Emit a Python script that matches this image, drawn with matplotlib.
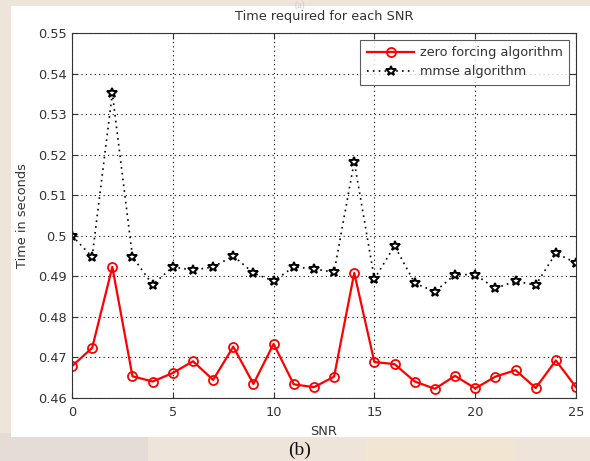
import matplotlib
matplotlib.use("Agg")
import matplotlib.pyplot as plt
from matplotlib.patches import Rectangle

snr = list(range(26))
zero_forcing = [0.4678, 0.4723, 0.4923, 0.4653, 0.4640, 0.4661, 0.4690, 0.4644,
                0.4726, 0.4634, 0.4733, 0.4633, 0.4626, 0.4652, 0.4908, 0.4688,
                0.4683, 0.4640, 0.4622, 0.4654, 0.4623, 0.4652, 0.4668, 0.4624,
                0.4692, 0.4626]
mmse = [0.5000, 0.4948, 0.5352, 0.4948, 0.4879, 0.4923, 0.4915, 0.4923,
        0.4950, 0.4908, 0.4888, 0.4923, 0.4918, 0.4910, 0.5183, 0.4893,
        0.4975, 0.4883, 0.4862, 0.4904, 0.4904, 0.4870, 0.4888, 0.4878,
        0.4957, 0.4933]
xticks = [0, 5, 10, 15, 20, 25]
yticks = [0.46, 0.47, 0.48, 0.49, 0.50, 0.51, 0.52, 0.53, 0.54, 0.55]
ytick_labels = ["0.46", "0.47", "0.48", "0.49", "0.5", "0.51", "0.52", "0.53", "0.54", "0.55"]

plt.rcParams["font.family"] = ["DejaVu Sans"]
FS = 9.3
TXT = "#333333"

fig = plt.figure(figsize=(5.9, 4.61), dpi=100)
fig.patch.set_facecolor("#efe4da")

# faded page background behind the figure panel
fig.patches.append(Rectangle((0, 0), 0.25, 0.06, transform=fig.transFigure,
                             facecolor="#e6dcd6", edgecolor="none", zorder=-2))
fig.patches.append(Rectangle((0.62, 0), 0.25, 0.06, transform=fig.transFigure,
                             facecolor="#f2e6d2", edgecolor="none", zorder=-2))
# white figure panel
fig.patches.append(Rectangle((11 / 590, 1 - 437 / 461), 1 - 11 / 590, (437 - 6) / 461,
                             transform=fig.transFigure, facecolor="white",
                             edgecolor="none", zorder=-1))

ax = fig.add_axes([72 / 590, 1 - 397.7 / 461, (576 - 72) / 590, (397.7 - 33.3) / 461])
ax.set_zorder(1)

ax.plot(snr, zero_forcing, color="red", linewidth=1.6, marker="o", markersize=6.5,
        markerfacecolor="none", markeredgecolor="red", markeredgewidth=1.3,
        label="zero forcing algorithm")
ax.plot(snr, mmse, color="black", linewidth=1.2, linestyle=(0, (1, 2.5)), marker="*",
        markersize=7.5, markerfacecolor="white", markeredgecolor="black",
        markeredgewidth=1.4, label="mmse algorithm")

ax.set_xlim(0, 25)
ax.set_ylim(0.46, 0.55)
ax.set_xticks(xticks)
ax.set_yticks(yticks)
ax.set_yticklabels(ytick_labels)
ax.tick_params(direction="in", top=True, right=True, length=4, labelsize=FS,
               colors=TXT, width=0.8)
ax.tick_params(axis="x", pad=6)
ax.tick_params(axis="y", pad=4)
ax.grid(True, color="black", linestyle=(0, (1, 3)), linewidth=0.8)
for s in ax.spines.values():
    s.set_color("#333333")
    s.set_linewidth(0.8)

ax.set_title("Time required for each SNR", fontsize=FS, color=TXT, pad=9.5)
ax.set_xlabel("SNR", fontsize=FS, color=TXT, labelpad=4)
ax.set_ylabel("Time in seconds", fontsize=FS, color=TXT, labelpad=6)

leg = ax.legend(loc="upper right", fontsize=FS, frameon=True, fancybox=False,
                borderpad=0.5, borderaxespad=0, handlelength=3.7,
                handletextpad=0.4, labelspacing=0.45,
                bbox_to_anchor=(0.986, 0.9816))
leg.get_frame().set_edgecolor("#333333")
leg.get_frame().set_linewidth(0.8)
for t in leg.get_texts():
    t.set_color(TXT)

fig.text(300 / 590, 1 - 450 / 461, "(b)", family=["Liberation Serif", "DejaVu Serif"],
         fontsize=14, ha="center", va="center", color="#111111")
fig.text(300 / 590, 1.0, "(a)", family=["Liberation Serif", "DejaVu Serif"],
         fontsize=7, ha="center", va="top", color="#c8c8c8")

fig.savefig("out.png", dpi=100)
